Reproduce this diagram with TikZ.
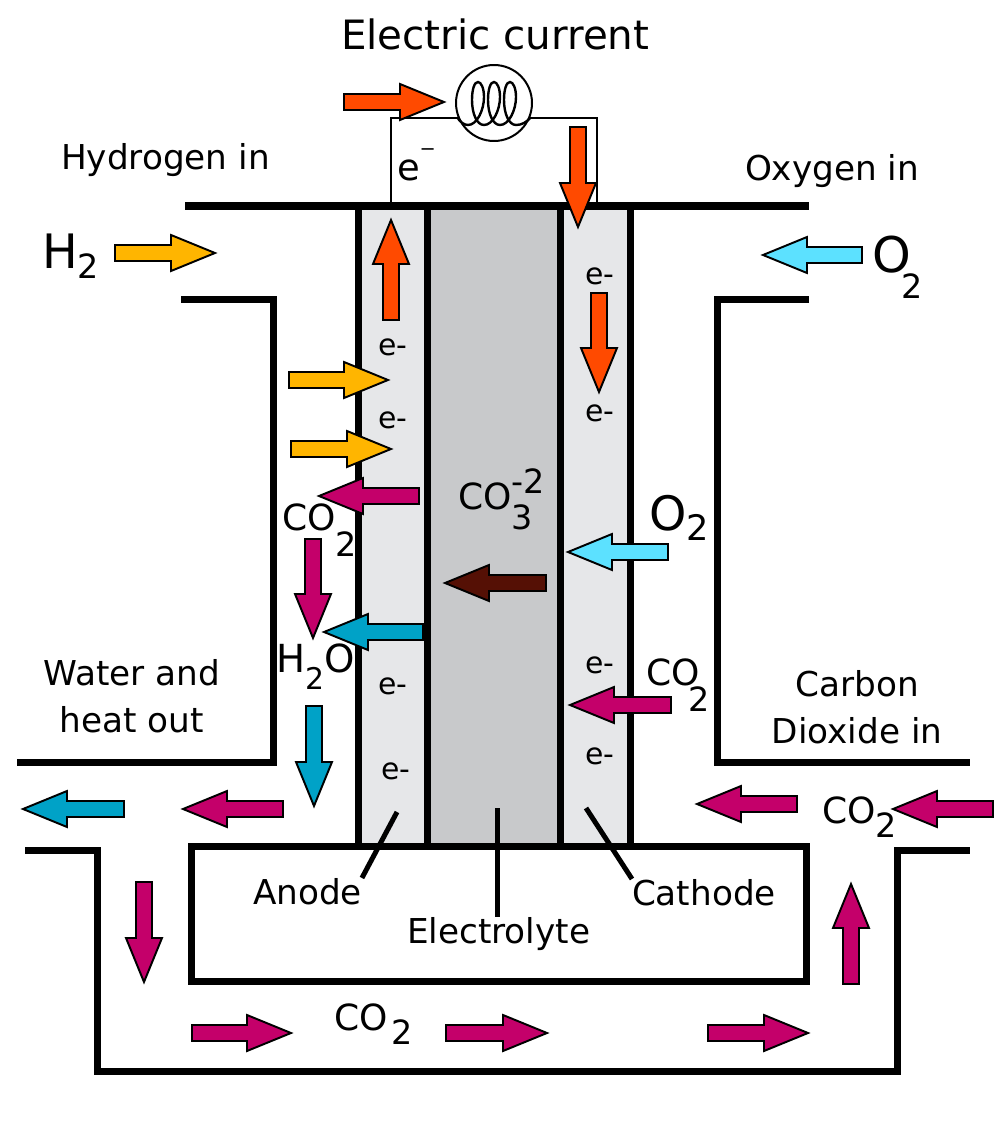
\documentclass[tikz,border=0pt]{standalone}
\usepackage{fontspec}
\setmainfont{DejaVu Sans}
\usepackage{xcolor}
\usetikzlibrary{calc}

\definecolor{currentred}{HTML}{FF4A00}
\definecolor{fuelyellow}{HTML}{FFB500}
\definecolor{oxygencyan}{HTML}{5CE1FF}
\definecolor{carbonpink}{HTML}{C4006A}
\definecolor{waterblue}{HTML}{00A2C7}
\definecolor{ionbrown}{HTML}{551005}
\definecolor{electrodegray}{HTML}{E6E7E9}
\definecolor{electrolytegray}{HTML}{C8C9CB}

\tikzset{
  wall/.style={line width=7pt*0.569, black, line cap=butt, line join=miter},
  leader/.style={line width=5pt*0.569, black},
  wire/.style={line width=2pt*0.569, black},
  flowline/.style={line width=1.1pt, black, line join=miter},
  txt/.style={anchor=base west, inner sep=0pt, outer sep=0pt, font=\fontsize{#1}{#1}\selectfont},
  twolines/.style={inner sep=0pt, outer sep=0pt, align=center, font=\fontsize{19.5}{27}\selectfont},
}

% tail, tip given in pixels of the sketch
\newcommand{\flowarrow}[3]{%
  \coordinate (neck) at ($(#3)!0.88cm!(#2)$);
  \draw[flowline, fill=#1]
    ($(#2)!0.16cm!90:(#3)$) -- ($(neck)!0.16cm!90:(#3)$) -- ($(neck)!0.36cm!90:(#3)$)
    -- (#3) -- ($(neck)!0.36cm!-90:(#3)$) -- ($(neck)!0.16cm!-90:(#3)$)
    -- ($(#2)!0.16cm!-90:(#3)$) -- cycle;}
\newcommand{\lowered}[3]{\raisebox{-#1pt}{\fontsize{#2}{#2}\selectfont #3}}

\begin{document}
\begin{tikzpicture}[x=0.02cm, y=-0.02cm]
  \useasboundingbox (0,0) rectangle (1000,1122);

  % Cell layers
  \fill[electrodegray] (358,206) rectangle (427,846);
  \fill[electrolytegray] (427,206) rectangle (560,846);
  \fill[electrodegray] (560,206) rectangle (630,846);

  % Lamp and its wires
  \node[circle, draw, line width=2pt*0.569, minimum size=1.52cm, inner sep=0pt] (lamp) at (494,103) {};
  \coordinate (wireleft) at (391,206);
  \coordinate (wireright) at (597,206);
  \draw[wire] (wireleft) |- (lamp.203);
  \draw[wire] (wireright) |- (lamp.337);
  \draw[line width=2.4pt*0.569] (457,117) .. controls (460,122) and (464,125) .. (468,125)
    \foreach \dx in {0,16,32}{
      .. controls (477+\dx,125) and (484+\dx,110) .. (484+\dx,97)
      .. controls (484+\dx,88) and (481+\dx,82) .. (478+\dx,82)
      .. controls (474.5+\dx,82) and (472+\dx,89) .. (472+\dx,100)
      .. controls (472+\dx,114) and (477+\dx,125) .. (484+\dx,125)
    }
    .. controls (522,125) and (527,122) .. (531,117);

  % Walls
  \foreach \xw in {358,427,560,630}
    \draw[wall] (\xw,206) -- (\xw,846);
  \draw[line width=9pt*0.569] (185,206) -- (809,206);
  \draw[wall] (181,299) -- (273,299) -- (273,762) -- (17,762);
  \draw[wall] (809,299) -- (717,299) -- (717,762) -- (970,762);
  \draw[wall] (25,850) -- (97,850) -- (97,1071) -- (897,1071) -- (897,850) -- (970,850);
  \draw[wall] (191,846) rectangle (806,981);

  % Electron flow
  \foreach \xa/\ya/\xb/\yb in {344/102/444/102, 578/127/578/227, 391/320/391/220, 599/293/599/392}
    \flowarrow{currentred}{\xa,\ya}{\xb,\yb};
  % Hydrogen
  \foreach \xa/\ya/\xb/\yb in {115/253/215/253, 289/380/388/380, 291/449/391/449}
    \flowarrow{fuelyellow}{\xa,\ya}{\xb,\yb};
  % Oxygen
  \foreach \xa/\ya/\xb/\yb in {862/255/763/255, 668/552/568/552}
    \flowarrow{oxygencyan}{\xa,\ya}{\xb,\yb};
  % Carbon dioxide
  \foreach \xa/\ya/\xb/\yb in {419/496/319/496, 313/539/313/638, 671/705/570/705, 283/809/183/809,
      797/804/697/804, 993/809/893/809, 144/882/144/982, 851/984/851/884,
      192/1033/291/1033, 446/1033/547/1033, 708/1033/808/1033}
    \flowarrow{carbonpink}{\xa,\ya}{\xb,\yb};
  % Water
  \foreach \xa/\ya/\xb/\yb in {423/632/324/632, 314/706/314/806, 124/809/23/809}
    \flowarrow{waterblue}{\xa,\ya}{\xb,\yb};
  % Carbonate ion
  \flowarrow{ionbrown}{546,583}{445,583};

  % Titles
  \node[txt=23] (current) at (341,50) {Electric current};
  \node[txt=19.5] (hydrogen) at (61,169) {Hydrogen in};
  \node[txt=19.5] (oxygen) at (745,180) {Oxygen in};
  \node[twolines] (water) at (132,696) {Water and\\heat out};
  \node[twolines] (carbon) at (857,707) {Carbon\\Dioxide in};

  % Species
  \node[txt=27] (hydrogenin) at (42,268) {H\lowered{5.7}{19}{2}};
  \node[txt=28] (oxygenin) at (872,272) {O\hspace{-5pt}\lowered{15}{19}{2}};
  \node[txt=27] (oxygenmid) at (649,530) {O\lowered{5.7}{20}{2}};
  \node[txt=22] (waterout) at (276,672) {H\lowered{10}{17}{2}O};
  \node[txt=20.5] (carbonleft) at (282,530) {CO\lowered{15}{19}{2}};
  \node[txt=20.5] (carbonright) at (646,685) {CO\hspace{-6.5pt}\lowered{15.3}{19}{2}};
  \node[txt=20.5] (carbonin) at (822,823) {CO\lowered{8}{19}{2}};
  \node[txt=20.5] (carbonloop) at (334,1030) {CO\hspace{2pt}\lowered{8.5}{19}{2}};
  \node[txt=20.5] (carbonate) at (458,509)
    {CO\raisebox{9pt}{\rlap{\fontsize{19}{19}\selectfont -2}}\lowered{11.4}{19}{3}};

  % Electrons
  \node[txt=21] (electron) at (397,180) {e\raisebox{13.7pt}{\fontsize{11}{11}\selectfont −}};
  \foreach \xe/\ye [count=\i] in {585/284, 378/355, 378/428, 585/421, 585/673, 378/694, 381/779, 585/764}
    \node[txt=17] (eminus\i) at (\xe,\ye) {e-};

  % Layer names
  \node[txt=19.5] (anode) at (253,904) {Anode};
  \node[txt=19.5] (electrolyte) at (407,943) {Electrolyte};
  \node[txt=19.5] (cathode) at (632,905) {Cathode};
  \coordinate (anodein) at (397,812);
  \coordinate (electrolytein) at (497,808);
  \coordinate (cathodein) at (586,808);
  \draw[leader] (anodein) -- (anode.north east);
  \draw[leader] (electrolytein) -- (electrolytein |- electrolyte.north);
  \draw[leader] (cathodein) -- (cathode.north west);
\end{tikzpicture}
\end{document}
